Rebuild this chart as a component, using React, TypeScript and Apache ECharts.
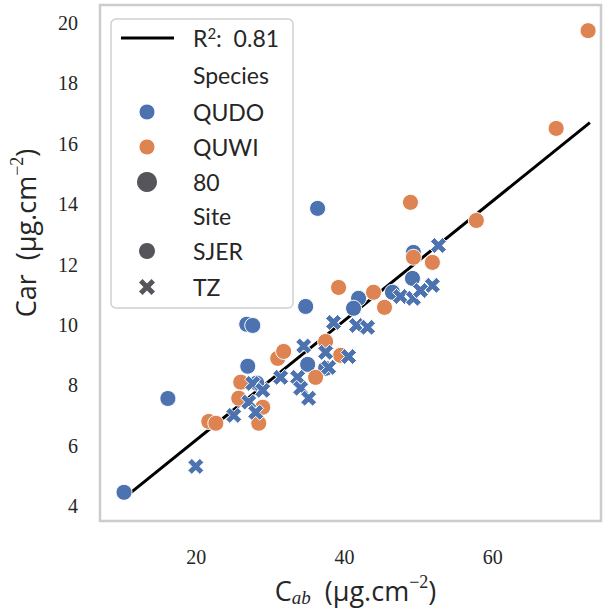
import React, { useEffect, useRef } from "react";
import * as echarts from "echarts";

// ---- data ----
const qudoSjerX = [10.24, 16.16, 26.8, 27.61, 26.94, 36.36, 34.75, 41.89, 41.21, 49.16, 49.29, 46.46, 35.02, 37.44, 28.15];
const qudoSjerY = [4.45, 7.56, 10.02, 9.98, 8.63, 13.86, 10.61, 10.88, 10.55, 11.54, 12.4, 11.08, 8.69, 8.56, 8.07];

const quwiSjerX = [72.86, 68.55, 57.78, 48.89, 49.29, 51.85, 45.39, 43.91, 39.19, 37.44, 36.09, 39.46, 30.98, 31.78, 25.99, 25.72, 21.68, 22.63, 28.42, 28.96];
const quwiSjerY = [19.75, 16.51, 13.46, 14.06, 12.24, 12.07, 10.58, 11.08, 11.24, 9.45, 8.26, 8.99, 8.89, 9.12, 8.1, 7.57, 6.8, 6.74, 6.74, 7.27];

const qudoTzX = [19.93, 25.05, 27.07, 27.61, 28.96, 28.01, 31.38, 33.67, 34.07, 35.15, 34.48, 38.52, 37.44, 37.85, 40.54, 41.62, 43.1, 52.66, 51.85, 47.54, 49.29, 50.24];
const qudoTzY = [5.31, 7.0, 7.44, 8.06, 7.83, 7.1, 8.26, 8.26, 7.9, 7.57, 9.3, 10.08, 9.09, 8.59, 8.95, 9.98, 9.92, 12.63, 11.31, 10.94, 10.88, 11.14];

const fitX = [11.2, 73.1];
const fitY = [4.45, 16.7];

const xTicks = [20, 40, 60];
const yTicks = [4, 6, 8, 10, 12, 14, 16, 18, 20];

const legendRows = ["{a|R}{s|2}{a|:  0.81}", "Species", "QUDO", "QUWI", "80", "Site", "SJER", "TZ"];

const BLUE = "#4c72b0";
const ORANGE = "#dd8452";
const GRAY = "#55555b";
const TEXT = "#262626";
const X_PATH = "path://M0 2.5L2.5 0L5 2.5L7.5 0L10 2.5L7.5 5L10 7.5L7.5 10L5 7.5L2.5 10L0 7.5L2.5 5Z";

const zip = (a: number[], b: number[]) => a.map((v, i) => [v, b[i]]);

function xPolygon(cx: number, cy: number, size: number) {
  const base = [[0, 2.2], [2.2, 0], [5, 2.8], [7.8, 0], [10, 2.2], [7.2, 5], [10, 7.8], [7.8, 10], [5, 7.2], [2.2, 10], [0, 7.8], [2.8, 5]];
  const s = size / 10;
  return base.map(([px, py]) => [cx + (px - 5) * s, cy + (py - 5) * s]);
}

export default function App() {
  const ref = useRef<HTMLDivElement>(null);
  useEffect(() => {
    if (!ref.current) return;
    const chart = echarts.init(ref.current, undefined, { renderer: "svg" });

    const rowY = [38, 75, 112, 147, 182, 216, 251, 287];
    const textX = 193;
    const markX = 147;
    const legendFont = { fontSize: 23, fontFamily: "Lato", fill: TEXT };

    const graphic: any[] = [
      {
        type: "rect",
        shape: { x: 111, y: 19, width: 182, height: 289, r: 5 },
        style: { fill: "rgba(255,255,255,0.85)", stroke: "#d0d0d0", lineWidth: 1.5 },
        z: 100,
      },
      {
        type: "line",
        shape: { x1: 121, y1: rowY[0], x2: 174, y2: rowY[0] },
        style: { stroke: "#000", lineWidth: 3 },
        z: 101,
      },
      ...legendRows.map((t, i) => ({
        type: "text",
        x: textX,
        y: rowY[i],
        style: {
          text: t,
          ...legendFont,
          align: "left",
          verticalAlign: "middle",
          rich: {
            a: { fontSize: 23, fontFamily: "Lato", fill: TEXT, lineHeight: 26 },
            s: { fontSize: 15, fontFamily: "Lato", fill: TEXT, lineHeight: 14, verticalAlign: "top" },
          },
        },
        z: 101,
      })),
      { type: "circle", shape: { cx: markX, cy: rowY[2], r: 8 }, style: { fill: BLUE, stroke: "#fff", lineWidth: 1 }, z: 101 },
      { type: "circle", shape: { cx: markX, cy: rowY[3], r: 8 }, style: { fill: ORANGE, stroke: "#fff", lineWidth: 1 }, z: 101 },
      { type: "circle", shape: { cx: markX, cy: rowY[4], r: 10 }, style: { fill: GRAY }, z: 101 },
      { type: "circle", shape: { cx: markX, cy: rowY[6], r: 8 }, style: { fill: GRAY }, z: 101 },
      { type: "polygon", shape: { points: xPolygon(markX, rowY[7], 16) }, style: { fill: GRAY }, z: 101 },
    ];

    const nameRich = {
      m: { fontSize: 27, fontFamily: "Open Sans", color: TEXT, lineHeight: 34 },
      sub: { fontSize: 19, fontFamily: "Liberation Serif", fontStyle: "italic", color: TEXT, lineHeight: 16, verticalAlign: "bottom" },
      sup: { fontSize: 18, fontFamily: "Liberation Serif", color: TEXT, lineHeight: 16, verticalAlign: "top" },
    };

    chart.setOption({
      animation: false,
      grid: {
        left: 99,
        right: 2,
        top: 5,
        bottom: 92,
        show: true,
        borderColor: "#cccccc",
        borderWidth: 2.5,
        backgroundColor: "#fff",
      },
      xAxis: {
        type: "value",
        min: 7.0,
        max: 74.6,
        name: "{m|C}{sub|ab}{m|  (µg.cm}{sup|−2}{m|)}",
        nameLocation: "middle",
        nameGap: 52,
        nameTextStyle: { rich: nameRich, padding: [0, 0, 0, 10] },
        axisLine: { show: false },
        axisTick: { show: false },
        splitLine: { show: false },
        axisLabel: {
          customValues: xTicks,
          margin: 26,
          fontSize: 20,
          fontFamily: "Liberation Serif",
          color: TEXT,
        },
      },
      yAxis: {
        type: "value",
        min: 3.5,
        max: 20.6,
        name: "{m|Car  (µg.cm}{sup|−2}{m|)}",
        nameLocation: "middle",
        nameRotate: 90,
        nameGap: 58,
        nameTextStyle: { rich: nameRich, padding: [0, 0, 0, 60] },
        axisLine: { show: false },
        axisTick: { show: false },
        splitLine: { show: false },
        axisLabel: {
          customValues: yTicks,
          margin: 22,
          fontSize: 20,
          fontFamily: "Liberation Serif",
          color: TEXT,
        },
      },
      graphic,
      series: [
        {
          type: "line",
          data: zip(fitX, fitY),
          showSymbol: false,
          lineStyle: { color: "#000", width: 3 },
          silent: true,
          z: 1,
        },
        {
          type: "scatter",
          name: "QUDO SJER",
          data: zip(qudoSjerX, qudoSjerY),
          symbol: "circle",
          symbolSize: 16,
          itemStyle: { color: BLUE, borderColor: "#fff", borderWidth: 1, opacity: 1 },
          z: 2,
        },
        {
          type: "scatter",
          name: "QUWI SJER",
          data: zip(quwiSjerX, quwiSjerY),
          symbol: "circle",
          symbolSize: 16,
          itemStyle: { color: ORANGE, borderColor: "#fff", borderWidth: 1, opacity: 1 },
          z: 3,
        },
        {
          type: "scatter",
          name: "QUDO TZ",
          data: zip(qudoTzX, qudoTzY),
          symbol: X_PATH,
          symbolSize: 16,
          itemStyle: { color: BLUE, borderColor: "#fff", borderWidth: 1, opacity: 1 },
          z: 4,
        },
      ],
    });
    return () => chart.dispose();
  }, []);
  return <div ref={ref} style={{ width: 603, height: 613, position: "absolute", left: 0, top: 0 }} />;
}
